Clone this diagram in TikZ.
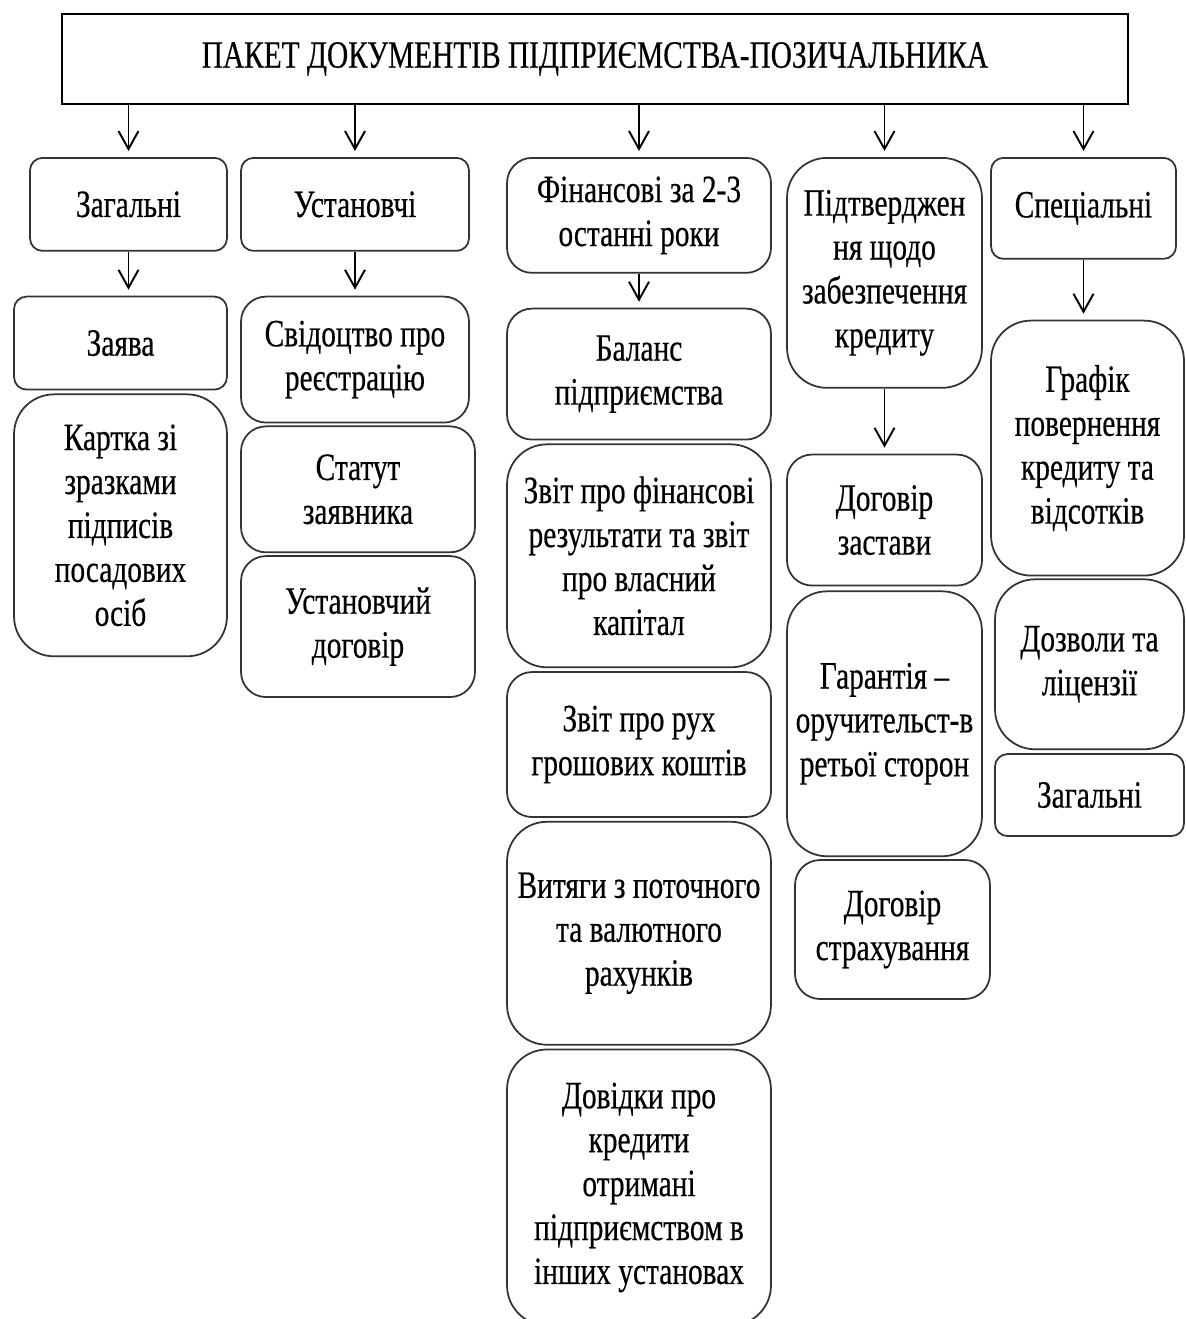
\documentclass[tikz,border=0pt]{standalone}
\usepackage{fontspec}
\setmainfont[FakeStretch=0.76, FakeBold=0.4]{Liberation Serif}
\usetikzlibrary{arrows.meta, positioning}

\begin{document}
\begin{tikzpicture}[
  x=0.02cm, y=-0.02cm,
  every node/.style={font=\fontsize{22}{25}\selectfont},
  box/.style={rectangle, draw=black!80, line width=1pt, align=center, inner sep=2pt},
  head/.style={box, draw=black, minimum width=21.32cm, minimum height=1.8cm},
  sbox/.style={box, rounded corners=0.25cm},
  mbox/.style={box, rounded corners=0.5cm},
  lbox/.style={box, rounded corners=0.8cm},
  arr/.style={-{Straight Barb[length=0.36cm, width=0.4cm]}, line width=1.1pt, shorten >=0.12cm},
]
\useasboundingbox (0,0) rectangle (1186,1319);

%% Title
\node[head] (pack) at (595,59) {ПАКЕТ ДОКУМЕНТІВ ПІДПРИЄМСТВА-ПОЗИЧАЛЬНИКА};

%% Groups of documents
\node[sbox, anchor=north, minimum width=3.94cm, minimum height=1.86cm] (general)  at (128.5,157)  {Загальні};
\node[sbox, anchor=north, minimum width=4.56cm, minimum height=1.86cm] (founding) at (355,157)    {Установчі};
\node[mbox, anchor=north, minimum width=5.28cm, minimum height=2.3cm]  (finance)  at (639,157)    {Фінансові за 2-3\\останні роки};
\node[lbox, anchor=north, minimum width=3.9cm,  minimum height=4.6cm]  (security) at (884.5,157)  {Підтверджен\\ня щодо\\забезпечення\\кредиту};
\node[sbox, anchor=north, minimum width=3.7cm,  minimum height=2.02cm] (special)  at (1083.5,157) {Спеціальні};

\foreach \n in {general, founding, finance, security, special}
  \draw[arr] (pack.south -| \n.north) -- (\n.north);

%% General
\node[sbox, below=0.88cm of general, xshift=-0.16cm, minimum width=4.26cm, minimum height=1.86cm] (application) {Заява};
\node[lbox, below=0.06cm of application, minimum width=4.26cm, minimum height=5.24cm] (signatures) {Картка зі\\зразками\\підписів\\посадових\\осіб};

\draw[arr] (general.south) -- (general.south |- application.north);

%% Founding
\node[mbox, below=0.88cm of founding, minimum width=4.56cm, minimum height=2.52cm] (certificate) {Свідоцтво про\\реєстрацію};
\node[mbox, below=0.04cm of certificate, xshift=0.06cm, minimum width=4.68cm, minimum height=2.52cm] (statute) {Статут\\заявника};
\node[mbox, below=0.04cm of statute, minimum width=4.68cm, minimum height=2.82cm] (contract) {Установчий\\договір};

\draw[arr] (founding.south) -- (founding.south |- certificate.north);

%% Financial
\node[mbox, below=0.68cm of finance, minimum width=5.28cm, minimum height=2.62cm] (balance) {Баланс\\підприємства};
\node[lbox, below=0.06cm of balance, minimum width=5.28cm, minimum height=4.46cm] (results) {Звіт про фінансові\\результати та звіт\\про власний\\капітал};
\node[mbox, below=0.06cm of results, minimum width=5.28cm, minimum height=2.9cm] (cashflow) {Звіт про рух\\грошових коштів};
\node[lbox, below=0.06cm of cashflow, minimum width=5.28cm, minimum height=4.46cm] (extracts) {Витяги з поточного\\та валютного\\рахунків};
\node[lbox, below=0.06cm of extracts, minimum width=5.28cm, minimum height=5.52cm] (loans) {Довідки про\\кредити\\отримані\\підприємством в\\інших установах};

\draw[arr] (finance.south) -- (finance.south |- balance.north);

%% Security
\node[mbox, below=1.3cm of security, minimum width=3.9cm, minimum height=2.62cm] (pledge) {Договір\\застави};
\node[lbox, below=0.08cm of pledge, minimum width=3.9cm, minimum height=5.3cm] (guarantee) {Гарантія –\\оручительст-в\\ретьої сторон};
\node[mbox, below=0.04cm of guarantee, xshift=0.16cm, minimum width=3.9cm, minimum height=2.78cm] (insurance) {Договір\\страхування};

\draw[arr] (security.south) -- (security.south |- pledge.north);

%% Special
\node[lbox, below=1.2cm of special, xshift=0.08cm, minimum width=3.86cm, minimum height=5.1cm] (schedule) {Графік\\повернення\\кредиту та\\відсотків};
\node[lbox, below=0.04cm of schedule, xshift=0.04cm, minimum width=3.78cm, minimum height=3.4cm] (permits) {Дозволи та\\ліцензії};
\node[sbox, below=0.06cm of permits, minimum width=3.78cm, minimum height=1.64cm] (othergen) {Загальні};

\draw[arr] (special.south) -- (special.south |- schedule.north);

\end{tikzpicture}
\end{document}
